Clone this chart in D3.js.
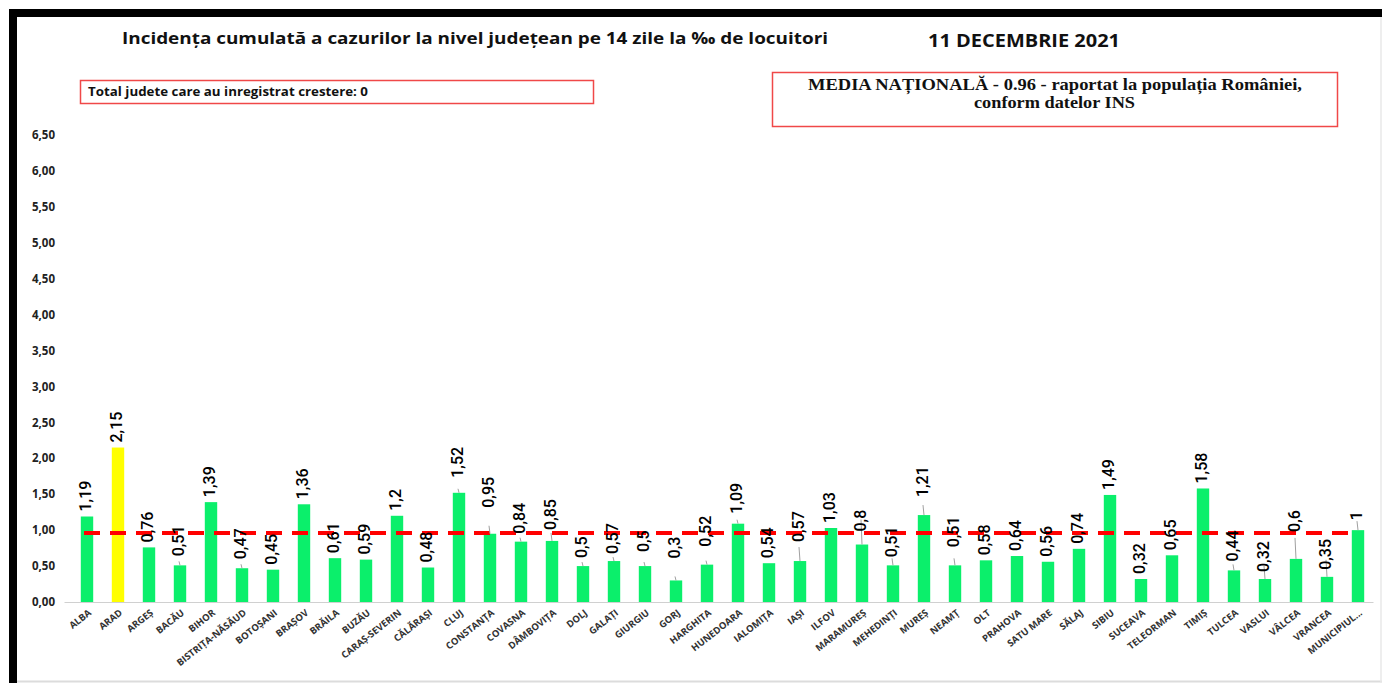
<!DOCTYPE html>
<html>
<head>
<meta charset="utf-8">
<script src="https://cdn.jsdelivr.net/npm/d3@7"></script>
<style>
  body { margin: 0; background: #fff; }
  svg { display: block; }
</style>
</head>
<body>
<svg id="chart" width="1382" height="683"></svg>
<script>
// judete, in ordinea din grafic
const judete = [
  "ALBA", "ARAD", "ARGEȘ", "BACĂU", "BIHOR", "BISTRIȚA-NĂSĂUD", "BOTOȘANI",
  "BRAȘOV", "BRĂILA", "BUZĂU", "CARAȘ-SEVERIN", "CĂLĂRAȘI", "CLUJ", "CONSTANȚA",
  "COVASNA", "DÂMBOVIȚA", "DOLJ", "GALAȚI", "GIURGIU", "GORJ", "HARGHITA",
  "HUNEDOARA", "IALOMIȚA", "IAȘI", "ILFOV", "MARAMUREȘ", "MEHEDINȚI", "MUREȘ",
  "NEAMȚ", "OLT", "PRAHOVA", "SATU MARE", "SĂLAJ", "SIBIU", "SUCEAVA",
  "TELEORMAN", "TIMIȘ", "TULCEA", "VASLUI", "VÂLCEA", "VRANCEA", "MUNICIPIUL..."
];

const incidenta = [
  1.19, 2.15, 0.76, 0.51, 1.39, 0.47, 0.45, 1.36, 0.61, 0.59, 1.2, 0.48, 1.52, 0.95,
  0.84, 0.85, 0.5, 0.57, 0.5, 0.3, 0.52, 1.09, 0.54, 0.57, 1.03, 0.8, 0.51, 1.21,
  0.51, 0.58, 0.64, 0.56, 0.74, 1.49, 0.32, 0.65, 1.58, 0.44, 0.32, 0.6, 0.35, 1
];

// judetul evidentiat cu galben
const evidentiat = ["ARAD"];

const mediaNationala = 0.96;

const yTicks = [0, 0.5, 1, 1.5, 2, 2.5, 3, 3.5, 4, 4.5, 5, 5.5, 6, 6.5];

const titlu = "Incidența cumulată a cazurilor la nivel județean pe 14 zile la ‰ de locuitori";
const dataRaport = "11 DECEMBRIE 2021";
const textCrestere = "Total judete care au inregistrat crestere: 0";
const textMedia = ["MEDIA NAȚIONALĂ - 0.96 -  raportat la populația României,", "conform datelor INS"];

const data = judete.map((j, i) => ({ name: j, value: incidenta[i] }));

const svg = d3.select("#chart");
const W = 1382, H = 683;

// rama
svg.append("rect").attr("x", 9).attr("y", 9).attr("width", W - 9).attr("height", 8).attr("fill", "#000");
svg.append("rect").attr("x", 9).attr("y", 9).attr("width", 8).attr("height", H - 9).attr("fill", "#000");
svg.append("line").attr("x1", 17).attr("x2", W).attr("y1", 681.5).attr("y2", 681.5)
  .attr("stroke", "#dcdcdc").attr("stroke-width", 2);
svg.append("line").attr("x1", 1381).attr("x2", 1381).attr("y1", 17).attr("y2", H)
  .attr("stroke", "#e8e8e8").attr("stroke-width", 1.5);

// titluri
svg.append("text")
  .attr("x", 122).attr("y", 44)
  .attr("textLength", 706).attr("lengthAdjust", "spacingAndGlyphs")
  .style("font-family", "'Open Sans', sans-serif").style("font-weight", "bold")
  .style("font-size", "16px").attr("fill", "#111")
  .text(titlu);

svg.append("text")
  .attr("x", 928).attr("y", 47)
  .attr("textLength", 192).attr("lengthAdjust", "spacingAndGlyphs")
  .style("font-family", "'Open Sans', sans-serif").style("font-weight", "bold")
  .style("font-size", "17px").attr("fill", "#111")
  .text(dataRaport);

// caseta crestere
svg.append("rect")
  .attr("x", 80.5).attr("y", 80.5).attr("width", 513).attr("height", 23)
  .attr("fill", "none").attr("stroke", "#f04848").attr("stroke-width", 1.5);
svg.append("text")
  .attr("x", 88).attr("y", 96)
  .attr("textLength", 280).attr("lengthAdjust", "spacingAndGlyphs")
  .style("font-family", "'Open Sans', sans-serif").style("font-weight", "bold")
  .style("font-size", "11.5px").attr("fill", "#111")
  .text(textCrestere);

// caseta media nationala
svg.append("rect")
  .attr("x", 772.5).attr("y", 72.5).attr("width", 565).attr("height", 54)
  .attr("fill", "none").attr("stroke", "#f04848").attr("stroke-width", 1.5);
svg.append("text")
  .attr("x", 808).attr("y", 90)
  .attr("textLength", 494).attr("lengthAdjust", "spacingAndGlyphs")
  .style("font-family", "'Liberation Serif', serif").style("font-weight", "bold")
  .style("font-size", "16.5px").attr("fill", "#111")
  .text(textMedia[0]);
svg.append("text")
  .attr("x", 974).attr("y", 108)
  .attr("textLength", 161).attr("lengthAdjust", "spacingAndGlyphs")
  .style("font-family", "'Liberation Serif', serif").style("font-weight", "bold")
  .style("font-size", "16.5px").attr("fill", "#111")
  .text(textMedia[1]);

// scale
const x = d3.scaleBand()
  .domain(judete)
  .range([71.5, 1373.5])
  .paddingInner(0.6)
  .paddingOuter(0.3);

const y = d3.scaleLinear().domain([0, 6.5]).range([602, 135]);

const fmt = (v) => String(v).replace(".", ",");

// axa Y
const yAxis = svg.append("g")
  .attr("transform", "translate(55,0)")
  .call(d3.axisLeft(y).tickValues(yTicks).tickSize(0).tickPadding(0)
    .tickFormat((d) => d.toFixed(2).replace(".", ",")));
yAxis.select(".domain").remove();
yAxis.selectAll("text")
  .style("font-family", "'Open Sans', sans-serif").style("font-weight", "bold")
  .style("font-size", "11.5px").attr("fill", "#222");

// bare
svg.append("g")
  .selectAll("rect")
  .data(data)
  .enter()
  .append("rect")
  .attr("x", (d) => x(d.name))
  .attr("y", (d) => y(d.value))
  .attr("width", x.bandwidth())
  .attr("height", (d) => y(0) - y(d.value))
  .attr("fill", (d) => (evidentiat.includes(d.name) ? "#ffff00" : "#0bef6b"));

// axa X
const xAxis = svg.append("g")
  .attr("transform", "translate(0," + y(0) + ")")
  .call(d3.axisBottom(x).tickSize(0).tickPadding(0));
xAxis.select(".domain")
  .attr("d", "M" + (x.range()[0] - 7) + ",0.5H" + x.range()[1])
  .attr("stroke", "#d0d0d0");
xAxis.selectAll("text")
  .attr("y", 0).attr("dy", 0)
  .attr("text-anchor", "end")
  .attr("transform", "translate(5,12) rotate(-38)")
  .style("font-family", "'Open Sans', sans-serif").style("font-weight", "bold")
  .style("font-size", "9.5px").attr("fill", "#333");

// linia mediei nationale
const cx = (d) => x(d) + x.bandwidth() / 2;
svg.append("line")
  .attr("x1", cx(judete[0]) - 3)
  .attr("x2", cx(judete[judete.length - 1]))
  .attr("y1", y(mediaNationala)).attr("y2", y(mediaNationala))
  .attr("stroke", "#ff0000").attr("stroke-width", 4)
  .attr("stroke-dasharray", "16,10");

// etichete valori (unele mutate mai sus, cu linie de legatura, ca in original)
const ridicare = [
  0, 0, 0, 4, 0, 4, 0, 0, 0, 0, 0, 0, 10, 21, 3, 6, 3, 2, 9, 17, 13,
  5, 0, 14, 0, 8, 3, 13, 13, 0, 0, 0, 0, 0, 0, 0, 0, 4, 2, 22, 2, 5
];
const gap = 5;

const labels = svg.append("g")
  .selectAll("g")
  .data(data)
  .enter()
  .append("g");

labels
  .filter((d, i) => ridicare[i] >= 2)
  .append("line")
  .attr("x1", (d) => cx(d.name)).attr("x2", (d) => cx(d.name) - 1)
  .attr("y1", (d) => y(d.value))
  .attr("y2", (d, i) => y(d.value) - gap - ridicare[i] + 1)
  .attr("stroke", "#a0a0a0").attr("stroke-width", 1);

labels
  .append("text")
  .attr("transform", (d, i) =>
    "translate(" + (cx(d.name) - 2) + "," + (y(d.value) - gap - ridicare[i]) + ") rotate(-90)")
  .attr("dy", "0.35em")
  .attr("text-anchor", "start")
  .style("font-family", "Roboto, sans-serif")
  .style("font-size", "16px").style("font-weight", "500").attr("fill", "#000")
  .text((d) => fmt(d.value));
</script>
</body>
</html>
